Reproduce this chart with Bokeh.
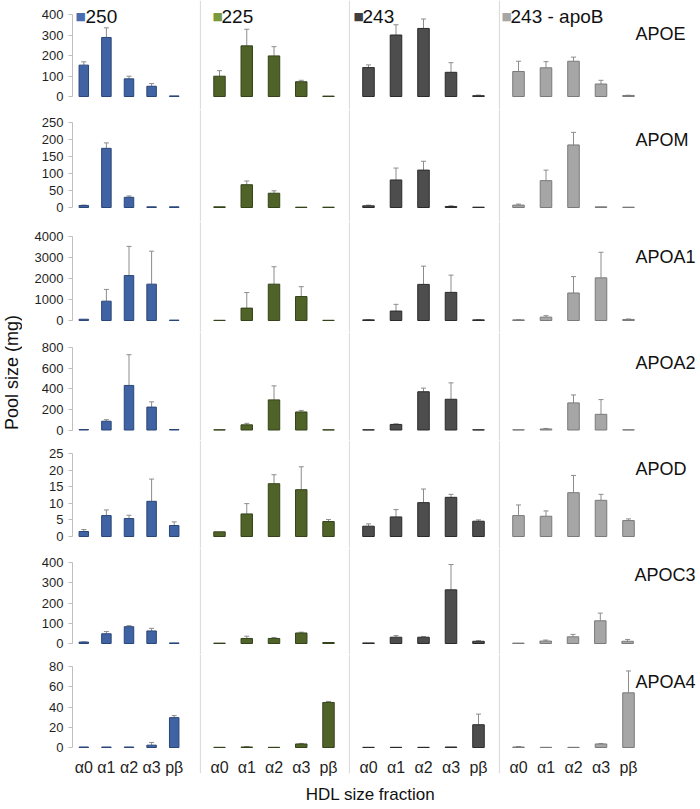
import math
import json
from bokeh.plotting import figure
from bokeh.models import (ColumnDataSource, FactorRange, Range1d, Whisker, TeeHead,
                          Span, Label, FixedTicker, LinearAxis, CustomJSTickFormatter)
from bokeh.layouts import row, column
from bokeh.embed import file_html
from bokeh.resources import INLINE

# ---------------- data ----------------
CATS = ["α0", "α1", "α2", "α3", "pβ"]
GROUPS = ["250", "225", "243", "243 - apoB"]
PROTEINS = ["APOE", "APOM", "APOA1", "APOA2", "APOD", "APOC3", "APOA4"]
Y_MAX = [400, 250, 4000, 800, 25, 400, 80]
Y_STEP = [100, 50, 1000, 200, 5, 100, 20]

# means per group (250, 225, 243, 243 - apoB), five fractions each
APOE_MEAN = [[153, 288, 86, 50, 3], [99, 247, 198, 72, 2], [141, 300, 332, 118, 4], [122, 140, 172, 61, 5]]
APOE_SD = [[16, 47, 13, 13, 0], [27, 81, 45, 7, 0], [13, 50, 46, 47, 3], [50, 30, 20, 18, 1]]

APOM_MEAN = [[6, 174, 30, 2, 2], [2, 67, 42, 1, 1], [5, 81, 110, 3, 1], [7, 79, 184, 2, 1]]
APOM_SD = [[1, 16, 4, 0, 0], [0, 11, 7, 0, 0], [2, 35, 26, 2, 0], [3, 31, 37, 0, 0]]

APOA1_MEAN = [[60, 920, 2140, 1730, 20], [10, 590, 1730, 1140, 10], [30, 450, 1720, 1340, 30], [30, 160, 1310, 2030, 50]]
APOA1_SD = [[0, 560, 1390, 1570, 0], [0, 740, 830, 470, 0], [10, 320, 870, 820, 10], [10, 70, 780, 1220, 20]]

APOA2_MEAN = [[5, 85, 432, 222, 5], [2, 50, 292, 175, 2], [2, 54, 371, 298, 2], [2, 10, 263, 152, 2]]
APOA2_SD = [[0, 15, 298, 51, 0], [0, 15, 136, 15, 0], [0, 6, 35, 159, 0], [0, 5, 77, 143, 0]]

APOD_MEAN = [[1.5, 6.3, 5.4, 10.6, 3.3], [1.4, 6.8, 15.9, 14.1, 4.5], [3.1, 5.9, 10.2, 11.8, 4.6], [6.3, 6.1, 13.2, 10.9, 4.8]]
APOD_SD = [[0.6, 1.7, 1.0, 6.7, 1.1], [0, 3.1, 2.7, 6.9, 0.6], [0.7, 2.2, 4.1, 0.9, 0.4], [3.2, 1.6, 5.2, 1.8, 0.5]]

APOC3_MEAN = [[7, 48, 83, 62, 3], [2, 25, 25, 52, 5], [3, 31, 31, 265, 11], [2, 12, 33, 112, 11]]
APOC3_SD = [[1, 11, 5, 13, 0], [0, 11, 5, 4, 0], [0, 8, 3, 125, 3], [0, 5, 12, 38, 9]]

APOA4_MEAN = [[0.5, 0.5, 0.5, 2.3, 29.5], [0.2, 0.5, 0.2, 3.5, 44.5], [0.2, 0.2, 0.2, 0.5, 22.5], [0.5, 0.2, 0.2, 3.5, 54]]
APOA4_SD = [[0, 0, 0, 2.7, 2], [0, 0.5, 0, 0.5, 1], [0, 0, 0, 0, 10.5], [0.5, 0, 0, 0.5, 21.6]]

MEANS = [APOE_MEAN, APOM_MEAN, APOA1_MEAN, APOA2_MEAN, APOD_MEAN, APOC3_MEAN, APOA4_MEAN]
SDS = [APOE_SD, APOM_SD, APOA1_SD, APOA2_SD, APOD_SD, APOC3_SD, APOA4_SD]

# ---------------- style / layout ----------------
FONT = "Liberation Sans"
BAR_FILL = ["#4064A3", "#4F6228", "#4D4D4D", "#A6A6A6"]
BAR_LINE = ["#2A4578", "#34431A", "#2B2B2B", "#7A7A7A"]
LEGEND_COLOR = ["#4A6CB0", "#7A9A3C", "#3F3F3F", "#A6A6A6"]
ERR_COLOR = "#8C8C8C"
SEP_COLOR = "#D4D4D4"

FRAME_TOP = [0, 109, 221, 332, 440, 548, 654]
FRAME_BOTTOM = [109, 221, 332, 440, 548, 654, 773]
TICK_TOP = [14, 122, 236, 347, 453, 562, 666]
TICK_ZERO = [96, 207, 320, 429.5, 536, 643, 747]
LABEL_DY = [19, 17, 20, 15, 15, 12, 15]

YTITLE_W = 22
COL_FRAME_W = [113, 149, 150, 150]
COL_SPACING = [22.6, 27.25, 27.5, 27.5]
BORDER_L = [50, 0, 0, 0]
BORDER_R = [14, 0, 0, 50]
LEG_SQ_X = [3, 13, 5, 3]
LEG_TX_X = [13, 22, 14, 12]
XAXIS_BORDER = 7
XTITLE_H = 28

total_h = sum(FRAME_BOTTOM[i] - FRAME_TOP[i] for i in range(7)) + XAXIS_BORDER

rows = []
for r, prot in enumerate(PROTEINS):
    M = Y_MAX[r]
    T, B = FRAME_TOP[r], FRAME_BOTTOM[r]
    k = (TICK_ZERO[r] - TICK_TOP[r]) / M
    lo = -(B - TICK_ZERO[r]) / k
    hi = M + (TICK_TOP[r] - T) / k
    yr = Range1d(lo, hi)
    last = r == len(PROTEINS) - 1
    figs = []
    for g, grp in enumerate(GROUPS):
        fw = COL_FRAME_W[g]
        pad = max((fw / COL_SPACING[g] - 5) / 2, 0)
        mb = XAXIS_BORDER if last else 0
        p = figure(width=fw + BORDER_L[g] + BORDER_R[g], height=(B - T) + mb,
                   x_range=FactorRange(*CATS, range_padding=pad, range_padding_units="absolute"),
                   y_range=yr, output_backend="svg", toolbar_location=None, title=None,
                   x_axis_location="below" if last else None,
                   y_axis_location="left" if g == 0 else None,
                   min_border_left=BORDER_L[g], min_border_right=BORDER_R[g],
                   min_border_top=0, min_border_bottom=mb,
                   outline_line_color=None, background_fill_color="white",
                   border_fill_color="white")
        p.xgrid.visible = False
        p.ygrid.visible = False

        mean = MEANS[r][g]
        sd = SDS[r][g]
        src = ColumnDataSource(dict(x=CATS, top=mean))
        p.vbar(x="x", top="top", width=0.42, source=src,
               fill_color=BAR_FILL[g], line_color=BAR_LINE[g], line_width=1)

        wx = [c for c, s in zip(CATS, sd) if s > 0]
        wlo = [m for m, s in zip(mean, sd) if s > 0]
        whi = [m + s for m, s in zip(mean, sd) if s > 0]
        wsrc = ColumnDataSource(dict(x=wx, lower=wlo, upper=whi))
        p.add_layout(Whisker(source=wsrc, base="x", lower="lower", upper="upper",
                             dimension="height", line_color=ERR_COLOR, line_width=1,
                             upper_head=TeeHead(size=5, line_color=ERR_COLOR, line_width=1),
                             lower_head=None))

        if g > 0:
            p.add_layout(Span(location=-pad + 0.03, dimension="height",
                              line_color=SEP_COLOR, line_width=1))

        if g == 0:
            ax = p.yaxis[0]
            ax.ticker = FixedTicker(ticks=[i * Y_STEP[r] for i in range(int(M / Y_STEP[r]) + 1)])
            ax.bounds = (0, M)
            ax.axis_line_color = "#BFBFBF"
            ax.major_tick_line_color = "#BFBFBF"
            ax.major_tick_out = 4
            ax.major_tick_in = 0
            ax.minor_tick_line_color = None
            ax.major_label_text_font = FONT
            ax.major_label_text_font_size = "13px"
            ax.major_label_text_color = "#1F1F1F"
            ax.major_label_standoff = 5

        if last:
            # category labels drawn just inside the bottom of the frame
            xa = p.xaxis[0]
            xa.axis_line_color = None
            xa.major_tick_line_color = None
            xa.major_tick_out = 0
            xa.major_tick_in = 0
            xa.minor_tick_line_color = None
            xa.major_label_text_font = FONT
            xa.major_label_text_font_size = "16px"
            xa.major_label_text_color = "#1F1F1F"
            xa.major_label_standoff = -15

        if g == 3:
            # protein name, drawn as the single label of a bare right-hand axis
            rax = LinearAxis(ticker=FixedTicker(ticks=[M - LABEL_DY[r] / k]),
                             formatter=CustomJSTickFormatter(code="return " + json.dumps(prot) + ";"),
                             axis_line_color=None, major_tick_line_color=None,
                             minor_tick_line_color=None, major_tick_in=0, major_tick_out=0,
                             major_label_standoff=-13, major_label_text_font=FONT,
                             major_label_text_font_size="18px",
                             major_label_text_color="#111111")
            p.add_layout(rax, "right")

        if r == 0:
            p.add_layout(Label(x=LEG_SQ_X[g], x_units="screen", y=hi, y_units="data",
                               y_offset=-16, text="■", text_align="left",
                               text_baseline="alphabetic", text_font="DejaVu Sans",
                               text_font_size="11px", text_color=LEGEND_COLOR[g]))
            p.add_layout(Label(x=LEG_TX_X[g], x_units="screen", y=hi, y_units="data",
                               y_offset=-16, text=grp, text_align="left",
                               text_baseline="alphabetic", text_font=FONT,
                               text_font_size="19px", text_color="#111111"))
        figs.append(p)
    rows.append(row(*figs))

# y title
pt = figure(width=YTITLE_W, height=total_h, x_range=Range1d(0, 1), y_range=Range1d(0, 1),
            min_border=0, toolbar_location=None, output_backend="svg", title=None,
            x_axis_location=None, y_axis_location=None, outline_line_color=None)
pt.grid.visible = False
pt.add_layout(Label(x=0.5, y=(total_h - 372) / total_h, text="Pool size (mg)",
                    angle=math.pi / 2, text_align="center", text_baseline="middle",
                    text_font=FONT, text_font_size="18px", text_color="#111111"))

# x title
total_w = YTITLE_W + sum(COL_FRAME_W) + sum(BORDER_L) + sum(BORDER_R)
px = figure(width=total_w, height=XTITLE_H, x_range=Range1d(0, 1), y_range=Range1d(0, 1),
            min_border=0, toolbar_location=None, output_backend="svg", title=None,
            x_axis_location=None, y_axis_location=None, outline_line_color=None)
px.grid.visible = False
px.add_layout(Label(x=370 / total_w, y=0.5, text="HDL size fraction",
                    text_align="center", text_baseline="middle",
                    text_font=FONT, text_font_size="17px", text_color="#111111"))

root = column(row(pt, column(*rows)), px)
open("out.html", "w").write(file_html(root, INLINE))
